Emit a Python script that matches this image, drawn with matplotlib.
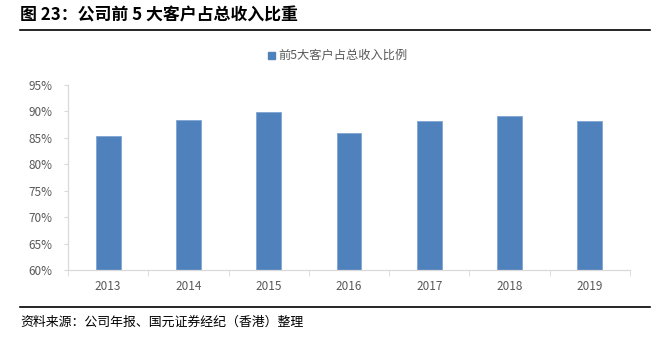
import matplotlib
matplotlib.use("Agg")
import matplotlib.pyplot as plt
from matplotlib.lines import Line2D
from matplotlib.ticker import FuncFormatter, MultipleLocator

plt.rcParams['font.family'] = ['Noto Sans CJK SC', 'DejaVu Sans']

years = ["2013", "2014", "2015", "2016", "2017", "2018", "2019"]
top5_share = [85.3, 88.3, 89.8, 86.0, 88.1, 89.1, 88.1]
series_name = "前5大客户占总收入比例"
title = "图 23：公司前 5 大客户占总收入比重"
source = "资料来源：公司年报、国元证券经纪（香港）整理"

W, H = 667, 341
fig = plt.figure(figsize=(W / 100, H / 100), dpi=100)

ax = fig.add_axes([68 / W, 1 - 270 / H, (630 - 68) / W, (270 - 85) / H])
x = list(range(len(years)))
ax.bar(x, [v - 60 for v in top5_share], bottom=60, width=0.31,
       color="#4F81BD", edgecolor="#7FA4D3", linewidth=0.6, zorder=2)

ax.set_xlim(-0.5, len(years) - 0.5)
ax.set_ylim(60, 95)
ax.yaxis.set_major_locator(MultipleLocator(5))
ax.yaxis.set_major_formatter(FuncFormatter(lambda v, _: f"{v:.0f}%"))
ax.set_xticks(x)
ax.set_xticklabels(years)
ax.set_xticks([i + 0.5 for i in range(-1, len(years))], minor=True)

for s in ["top", "right"]:
    ax.spines[s].set_visible(False)
for s in ["left", "bottom"]:
    ax.spines[s].set_color("#D9D9D9")
    ax.spines[s].set_linewidth(0.9)

ax.tick_params(axis="x", which="major", length=0, pad=7, labelsize=8.5, labelcolor="#595959")
ax.tick_params(axis="x", which="minor", length=4, color="#D9D9D9")
ax.tick_params(axis="y", length=3, color="#D9D9D9", pad=8, labelsize=8.5, labelcolor="#595959")

# legend
fig.patches.append(plt.Rectangle((268 / W, 1 - 59 / H), 7 / W, 7 / H,
                                 transform=fig.transFigure, color="#4F81BD"))
fig.text(278 / W, 1 - 55 / H, series_name, fontsize=8.8, color="#595959", va="center")

# title and source
fig.text(20 / W, 1 - 15 / H, title, fontsize=12.2, fontweight="bold", color="#000000", va="center")
fig.add_artist(Line2D([20 / W, 650 / W], [1 - 30 / H, 1 - 30 / H], color="#000000", linewidth=1.2))
fig.add_artist(Line2D([20 / W, 650 / W], [1 - 307 / H, 1 - 307 / H], color="#000000", linewidth=1.2))
fig.text(20 / W, 1 - 322 / H, source, fontsize=9.3, style="italic", color="#000000", va="center")

fig.savefig("out.png", dpi=100, facecolor="white")
